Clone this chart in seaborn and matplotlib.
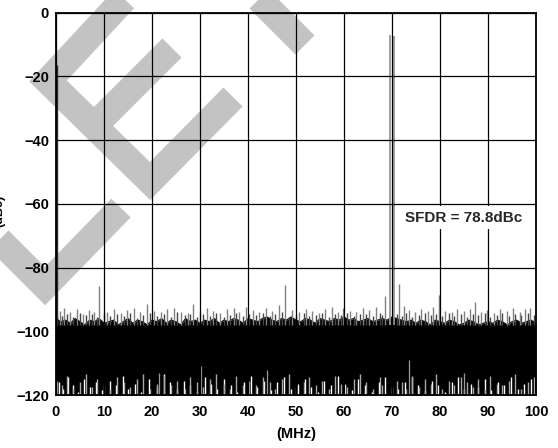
import numpy as np
import pandas as pd
import matplotlib
matplotlib.use('Agg')
import matplotlib.pyplot as plt
import seaborn as sns
from matplotlib.lines import Line2D
from matplotlib.transforms import IdentityTransform

#########################
#         Data          #
#########################

# frequency grid of the noise floor envelope (MHz)
freq_mhz = list(range(0, 101))
# top of the dense noise band (dBc), read every 1 MHz
floor_top = [
    -96.0,
    -97.0, -96.5, -97.5, -96.0, -97.0, -98.0, -96.5, -97.0, -96.0, -97.5,
    -97.0, -96.5, -98.0, -97.0, -96.0, -97.5, -96.5, -97.0, -98.0, -96.5,
    -97.0, -96.0, -97.5, -96.5, -97.0, -98.0, -96.0, -97.0, -96.5, -97.5,
    -96.5, -97.0, -96.0, -97.5, -96.5, -97.0, -96.0, -96.5, -97.5, -96.0,
    -96.5, -97.0, -96.0, -95.5, -96.5, -97.0, -96.0, -96.5, -95.5, -96.5,
    -97.0, -96.0, -96.5, -97.5, -96.0, -96.5, -97.0, -96.0, -96.5, -95.5,
    -96.5, -96.0, -97.0, -96.5, -96.0, -97.0, -96.5, -96.0, -96.5, -95.5,
    -96.0, -96.5, -97.0, -96.5, -97.5, -96.5, -97.0, -98.0, -96.5, -97.0,
    -97.5, -96.5, -97.0, -98.0, -97.5, -96.5, -97.0, -98.0, -97.5, -97.0,
    -97.5, -96.5, -97.0, -98.0, -97.0, -96.5, -97.5, -97.0, -96.5, -97.5,
]

# spurs standing above the noise band
spur_freq = [0.8, 1.7, 3.0, 4.3, 5.6, 6.8, 7.9, 9.0, 10.6, 12.0,
             13.5, 14.8, 16.2, 17.5, 18.9, 20.5, 21.8, 23.2, 24.6, 26.1,
             27.4, 28.5, 30.1, 31.4, 32.7, 34.2, 35.6, 37.0, 38.2, 39.5,
             41.0, 42.3, 43.7, 45.0, 46.4, 47.8, 49.2, 50.6, 52.0, 53.4,
             54.8, 56.1, 57.5, 58.8, 59.8, 61.3, 62.6, 63.9, 65.2, 66.6,
             68.5, 71.5, 72.4, 73.5, 74.8, 76.0, 77.4, 78.6, 79.7, 81.1,
             82.4, 83.6, 84.9, 86.2, 87.3, 88.6, 89.8, 91.2, 92.5, 93.9,
             95.2, 96.6, 97.8, 98.8]
spur_level = [-93.5, -92.8, -94.0, -93.0, -94.5, -93.2, -94.0, -85.8, -93.8, -92.9,
              -94.2, -93.4, -92.8, -94.0, -91.5, -93.6, -94.1, -93.0, -92.7, -93.8,
              -94.3, -91.3, -94.0, -92.8, -93.5, -94.2, -93.0, -92.6, -93.9, -92.5,
              -93.4, -94.0, -92.8, -93.5, -91.8, -85.5, -93.3, -94.0, -92.9, -93.6,
              -94.2, -93.0, -92.4, -93.8, -92.6, -93.5, -94.0, -92.8, -93.4, -92.5,
              -89.0, -85.2, -92.0, -93.2, -94.0, -92.9, -93.6, -92.4, -88.6, -93.5,
              -94.1, -92.9, -93.7, -93.0, -90.7, -94.0, -93.2, -94.3, -92.9, -93.6,
              -92.7, -93.9, -93.1, -92.6]

# shorter grey fuzz on top of the band
fuzz_freq = [0.3, 1.2, 2.3, 3.6, 4.9, 6.2, 7.4, 8.5, 9.9, 11.3,
             12.7, 14.1, 15.5, 16.8, 18.2, 19.6, 21.1, 22.6, 23.9, 25.3,
             26.8, 28.0, 29.3, 30.7, 32.0, 33.4, 34.9, 36.3, 37.6, 38.9,
             40.3, 41.7, 43.1, 44.5, 45.7, 47.1, 48.5, 49.9, 51.6, 52.7,
             54.1, 55.5, 56.8, 58.2, 59.4, 60.7, 62.0, 63.4, 64.6, 66.0,
             67.4, 68.0, 71.0, 72.0, 73.0, 74.2, 75.6, 76.8, 78.1, 79.2,
             80.4, 81.8, 83.0, 84.3, 85.6, 86.8, 88.0, 89.4, 90.5, 91.9,
             93.0, 94.4, 95.7, 96.9, 98.3, 99.5]
fuzz_level = [-94.8, -95.2, -94.5, -95.6, -94.3, -95.0, -94.7, -95.4, -94.2, -95.1,
              -94.6, -95.3, -94.4, -95.7, -94.9, -94.3, -95.2, -94.6, -95.5, -94.1,
              -95.0, -94.7, -95.4, -94.5, -95.1, -94.3, -95.6, -94.8, -94.4, -95.2,
              -94.6, -95.0, -94.2, -95.3, -94.7, -94.1, -95.5, -94.9, -94.4, -95.1,
              -94.8, -94.3, -95.4, -94.6, -95.0, -94.2, -95.3, -94.7, -94.5, -95.1,
              -94.4, -94.9, -94.6, -95.2, -94.3, -95.5, -94.8, -94.4, -95.0, -94.6,
              -95.3, -94.2, -95.1, -94.7, -95.4, -94.5, -95.0, -94.3, -95.6, -94.8,
              -94.4, -95.2, -94.6, -95.0, -94.3, -94.9]

# white gaps in the bottom of the noise band
dip_freq = [0.6, 1.5, 2.4, 3.6, 4.5, 5.9, 7.1, 8.3, 9.6, 11.2,
            12.4, 13.9, 15.1, 16.5, 17.8, 19.3, 21.0, 22.5, 23.7, 25.2,
            26.6, 27.9, 29.4, 31.0, 32.2, 33.5, 35.0, 36.4, 37.7, 39.1,
            40.6, 41.9, 43.4, 44.8, 46.1, 47.5, 49.0, 50.4, 51.8, 53.1,
            54.6, 55.9, 57.3, 58.7, 60.2, 61.6, 62.9, 64.4, 65.8, 67.2,
            68.6, 69.9, 71.3, 72.8, 74.1, 75.5, 76.9, 78.3, 79.6, 81.0,
            82.4, 83.8, 85.1, 86.5, 87.9, 89.3, 90.6, 92.0, 93.4, 94.8,
            96.2, 97.6, 99.0]
dip_level = [-116, -118, -114.5, -117, -119, -115, -117.5, -116, -118.5, -115.5,
             -117, -114, -118, -116.5, -119, -115, -117.5, -113.5, -116, -118,
             -115.5, -117, -119, -114.5, -116.5, -118, -115, -117, -119, -116,
             -114, -117.5, -115.5, -118.5, -116, -114.5, -118, -116.5, -115, -117.5,
             -119, -115.5, -117, -114, -116.5, -118.5, -115, -117, -119, -116,
             -114.5, -117.5, -118, -116, -114.5, -117, -118.5, -115.5, -117, -119,
             -116, -114.5, -118, -116.5, -117.5, -115, -118.5, -116, -117, -114.5,
             -118, -116.5, -115]

# grey gaps in the bottom of the band, at the fuzz positions
gdip_level = [-115.5, -117, -114, -118, -116, -113.5, -117.5, -115, -116.5, -118,
              -114.5, -116, -117.5, -115, -113.5, -118, -116.5, -114, -117, -115.5,
              -118, -114.5, -116, -117.5, -115, -113.5, -116.5, -118, -114, -117,
              -115.5, -117, -114.5, -116, -118, -115, -113.5, -117.5, -116, -114.5,
              -117, -115.5, -118, -114, -116.5, -117.5, -115, -113.5, -116, -118,
              -114.5, -117, -115.5, -116, -118, -114, -117.5, -115, -116.5, -113.5,
              -118, -115.5, -117, -114.5, -116, -117.5, -115, -118, -114, -116.5,
              -117, -115.5, -113.5, -118, -116, -114.5]

# lighter lines reaching up inside the band
streak_freq = [21.5, 30.3, 44.0, 73.5, 85.0]
streak_level = [-113, -111, -112, -109, -113]

# carrier (two sides of the narrow peak) and DC
peak_freq = [69.65, 70.4]
peak_level = [-7.0, -7.3]
dc_freq = [0.2]
dc_level = [-16.5]

sfdr_text = 'SFDR = 78.8dBc'
x_ticks = list(range(0, 101, 10))
y_ticks = list(range(-120, 1, 20))

df_floor = pd.DataFrame({'freq': freq_mhz, 'top': floor_top})

##########################
#   Plotting the data    #
##########################
sns.set_theme(style='white')
plt.rcParams['font.family'] = ['Liberation Sans', 'DejaVu Sans']
plt.rcParams['font.weight'] = 'bold'

W, H = 558, 448
fig = plt.figure(figsize=(W / 100, H / 100), dpi=100)
ax = fig.add_axes([56 / W, 53 / H, 480 / W, 382.3 / H])
ax.patch.set_alpha(0)

# grey diagonal watermark strokes behind the axes (image pixel coords)
wm_strokes = [
    [(-25, 216), (45, 286), (121, 208)],
    [(127, -4), (48, 81), (150, 181), (233, 97)],
    [(94, 126), (172, 48)],
    [(220, -40), (305, 45)],
]
for pts in wm_strokes:
    xs = [p[0] for p in pts]
    ys = [H - p[1] for p in pts]
    fig.add_artist(Line2D(xs, ys, transform=IdentityTransform(), color='#c3c3c3',
                          lw=27 * 0.72, solid_capstyle='butt', solid_joinstyle='miter', zorder=-1))

# noise band
ax.fill_between(df_floor['freq'], df_floor['top'], -120, color='black', lw=0, zorder=1)
sns.lineplot(x='freq', y='top', data=df_floor, color='black', lw=0.8, ax=ax, zorder=1.1)
ax.vlines(fuzz_freq, -98, fuzz_level, color='#444444', lw=1.0, zorder=1.15)
ax.vlines(spur_freq, -98, spur_level, color='#808080', lw=1.0, zorder=1.2)
ax.vlines(dip_freq, -120, dip_level, color='white', lw=1.0, zorder=1.3)
ax.vlines(fuzz_freq, -120, gdip_level, color='#a8a8a8', lw=1.0, zorder=1.3)
ax.vlines(streak_freq, -120, streak_level, color='#9a9a9a', lw=0.9, zorder=1.3)
ax.vlines(peak_freq, -98, peak_level, color='#999999', lw=1.3, zorder=1.2)
ax.vlines(dc_freq, -98, dc_level, color='#333333', lw=1.0, zorder=1.2)

ax.text(85, -64.3, sfdr_text, ha='center', va='center', fontsize=11, fontweight='bold',
        bbox=dict(facecolor='white', edgecolor='none', pad=3.5), zorder=3)

ax.set_xlim(0, 100)
ax.set_ylim(-120, 0)
ax.set_xticks(x_ticks)
ax.set_yticks(y_ticks)
ax.set_axisbelow(False)
ax.grid(True, color='black', lw=0.9, zorder=2)
ax.tick_params(length=0, labelsize=10.5, colors='black')
ax.tick_params(axis='x', pad=7)
ax.tick_params(axis='y', pad=5)
for s in ax.spines.values():
    s.set_color('black')
    s.set_linewidth(1.3)
    s.set_zorder(4)

ax.set_xlabel('(MHz)', fontsize=10.5, fontweight='bold', labelpad=6, color='black')
ax.set_ylabel('')
fig.text(-1 / W, 0.53, '(dBc)', rotation=90, ha='center', va='center', fontsize=9,
         fontweight='bold', color='black')

plt.savefig('out.png', dpi=100)
